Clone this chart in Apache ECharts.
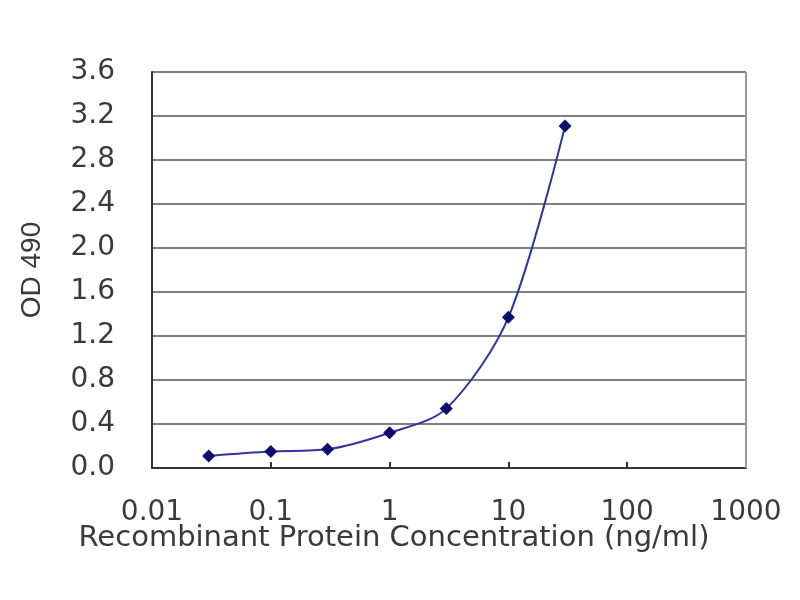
<!DOCTYPE html>
<html>
<head>
    <meta charset="utf-8">
    <title>OD 490</title>
    <script src="https://cdn.jsdelivr.net/npm/echarts@6/dist/echarts.min.js"></script>
    <style>
        html, body { margin: 0; padding: 0; background: #fff; }
        #chart1 { width: 800px; height: 600px; }
    </style>
</head>
<body>
<div id="chart1"></div>
<script type="text/javascript">
    // 数据
    var concentration = [0.03, 0.1, 0.3, 1, 3, 10, 30];
    var od490 = [0.11, 0.15, 0.17, 0.32, 0.54, 1.37, 3.11];
    var yTicks = [0, 0.4, 0.8, 1.2, 1.6, 2.0, 2.4, 2.8, 3.2, 3.6];
    var xTitle = 'Recombinant Protein Concentration (ng/ml)';
    var yTitle = 'OD 490';

    var points = concentration.map(function (c, i) { return [c, od490[i]]; });

    var myChart1 = echarts.init(document.getElementById('chart1'));
    myChart1.setOption({
        animation: false,
        grid: { left: 152, right: 54, top: 72, bottom: 132 },
        textStyle: { fontFamily: 'DejaVu Sans, sans-serif' },
        graphic: [{
            // x轴标题（相对整个图表居中）
            type: 'text',
            x: 394,
            y: 524,
            style: {
                text: xTitle,
                textAlign: 'center',
                fill: '#3a3a3a',
                font: '29px "DejaVu Sans", sans-serif'
            }
        }],
        xAxis: {
            type: 'log',
            logBase: 10,
            min: 0.01,
            max: 1000,
            axisLine: { lineStyle: { color: '#333', width: 2 } },
            axisTick: { show: true, inside: true, length: 6, lineStyle: { color: '#333', width: 2 } },
            axisLabel: {
                fontSize: 28, color: '#3a3a3a', margin: 31,
                formatter: function (v) { return String(+v.toPrecision(1)); }
            },
            splitLine: { show: false }
        },
        yAxis: {
            type: 'value',
            min: yTicks[0],
            max: yTicks[yTicks.length - 1],
            interval: 0.4,
            name: yTitle,
            nameLocation: 'middle',
            nameGap: 106,
            nameTextStyle: { fontSize: 28, color: '#3a3a3a', fontFamily: 'Liberation Sans, Arial, sans-serif' },
            axisLine: { show: true, lineStyle: { color: '#333', width: 2 } },
            axisTick: { show: false },
            axisLabel: {
                fontSize: 28, color: '#3a3a3a', margin: 37,
                formatter: function (v) { return v.toFixed(1); }
            },
            splitLine: { show: true, lineStyle: { color: '#7f7f7f', width: 2 } }
        },
        series: [{
            type: 'line',
            data: points,
            smooth: 0.3,
            symbol: 'diamond',
            symbolSize: 13,
            lineStyle: { color: '#3333a0', width: 2 },
            itemStyle: { color: '#0c0c6e' }
        }, {
            // 右侧边框
            type: 'line',
            data: [],
            markLine: {
                silent: true,
                symbol: 'none',
                label: { show: false },
                lineStyle: { color: '#9a9a9a', width: 2, type: 'solid' },
                data: [[{ coord: [1000, 0] }, { coord: [1000, 3.6] }]]
            }
        }]
    });
</script>
</body>
</html>
